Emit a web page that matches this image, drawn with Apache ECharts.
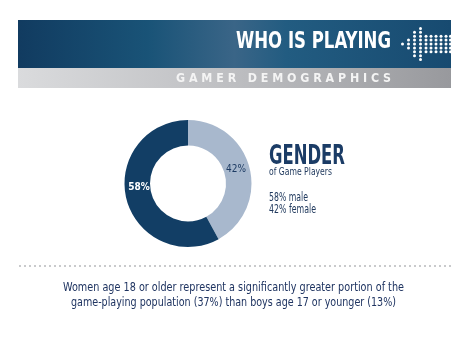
<!DOCTYPE html>
<html>
<head>
<meta charset="utf-8">
<script src="https://cdn.jsdelivr.net/npm/echarts@6/dist/echarts.min.js"></script>
<style>
html,body{margin:0;padding:0;background:#fff;}
#main{width:473px;height:340px;}
</style>
</head>
<body>
<div id="main"></div>
<script>
// ---- data ----
var categories = ['female', 'male'];
var values = [42, 58];
var titleText = 'WHO IS PLAYING';
var subtitleText = 'G A M E R   D E M O G R A P H I C S';
var headText = 'GENDER';
var headSub = 'of Game Players';
var statLines = ['58% male', '42% female'];
var noteLines = [
  'Women age 18 or older represent a significantly greater portion of the',
  'game-playing population (37%) than boys age 17 or younger (13%)'
];

// ---- styling ----
var FONT = "'Liberation Sans Narrow','DejaVu Sans Condensed','Roboto Condensed',sans-serif";
var sliceColors = ['#a8b8cd', '#123e65'];
var labelColors = ['#1d3b63', '#ffffff'];
var labelOffsets = [[-4, -1], [3, -9]];

var ctx = document.createElement('canvas').getContext('2d');
function fit(text, size, weight, width) {
  ctx.font = weight + ' ' + size + 'px ' + FONT;
  var w = ctx.measureText(text).width;
  return width / w;
}
function txt(text, x, y, size, weight, color, width, align) {
  var s = fit(text, size, weight, width);
  return {
    type: 'text', x: x, y: y, scaleX: s, silent: true,
    style: {
      text: text, fill: color, font: weight + ' ' + size + 'px ' + FONT,
      textAlign: align || 'left', textVerticalAlign: 'middle'
    }
  };
}

var graphics = [];
// banner
graphics.push({
  type: 'rect', shape: {x: 18, y: 20, width: 433, height: 48}, silent: true,
  style: {fill: new echarts.graphic.LinearGradient(0, 0, 1, 0, [
    {offset: 0, color: '#113b60'},
    {offset: 0.3, color: '#195377'},
    {offset: 0.5, color: '#3a6587'},
    {offset: 0.62, color: '#225c81'},
    {offset: 1, color: '#174a70'}
  ])}
});
graphics.push({
  type: 'rect', shape: {x: 18, y: 68, width: 433, height: 20}, silent: true,
  style: {fill: new echarts.graphic.LinearGradient(0, 0, 1, 0, [
    {offset: 0, color: '#dadbdd'},
    {offset: 0.5, color: '#bdbec1'},
    {offset: 1, color: '#98999d'}
  ])}
});
graphics.push(txt(titleText, 236, 42.5, 23, 'bold', '#ffffff', 155));
graphics.push(txt(subtitleText, 176, 78.5, 13, 'bold', '#f4f4f4', 215));

// dotted arrow decoration
var cols = [
  {x: 402.5, r: [0]},
  {x: 408.5, r: [-1, 0, 1]},
  {x: 414.5, r: [-3, -2, -1, 0, 1, 2, 3]},
  {x: 420.5, r: [-4, -3, -2, -1, 0, 1, 2, 3, 4]},
  {x: 426, r: [-2, -1, 0, 1, 2]},
  {x: 431, r: [-2, -1, 0, 1, 2]},
  {x: 436, r: [-2, -1, 0, 1, 2]},
  {x: 441, r: [-2, -1, 0, 1, 2]},
  {x: 446, r: [-2, -1, 0, 1, 2]},
  {x: 450.5, r: [-2, -1, 0, 1, 2]}
];
cols.forEach(function (c) {
  c.r.forEach(function (r) {
    graphics.push({type: 'circle', silent: true, shape: {cx: c.x, cy: 44 + r * 3.9, r: 1.5}, style: {fill: '#ffffff'}});
  });
});

// right-hand text
graphics.push(txt(headText, 269, 157, 26, 'bold', '#1b3c66', 76));
graphics.push(txt(headSub, 269, 172.5, 11, 'normal', '#213a5e', 63));
graphics.push(txt(statLines[0], 269, 198.5, 11.5, 'normal', '#213a5e', 39));
graphics.push(txt(statLines[1], 269, 210.5, 11.5, 'normal', '#213a5e', 47));

// dotted separator
graphics.push({
  type: 'line', silent: true, shape: {x1: 19, y1: 266, x2: 451, y2: 266},
  style: {stroke: '#c9cacc', lineWidth: 2, lineDash: [2, 3]}
});

// bottom note
graphics.push(txt(noteLines[0], 233.5, 287.5, 13, 'normal', '#1f3461', 341, 'center'));
graphics.push(txt(noteLines[1], 233.5, 303, 13, 'normal', '#1f3461', 325, 'center'));

var chart = echarts.init(document.getElementById('main'), null, {renderer: 'canvas'});
chart.setOption({
  animation: false,
  graphic: graphics,
  series: [{
    type: 'pie',
    center: [188, 183.5],
    radius: [38, 63.5],
    startAngle: 90,
    clockwise: true,
    silent: true,
    label: {
      show: true, position: 'inside', formatter: '{c}%',
      fontFamily: FONT, fontSize: 10
    },
    labelLine: {show: false},
    data: categories.map(function (c, i) {
      return {
        name: c, value: values[i],
        itemStyle: {color: sliceColors[i]},
        label: {color: labelColors[i], offset: labelOffsets[i], fontWeight: i === 1 ? 'bold' : 'normal'}
      };
    })
  }]
});
</script>
</body>
</html>
